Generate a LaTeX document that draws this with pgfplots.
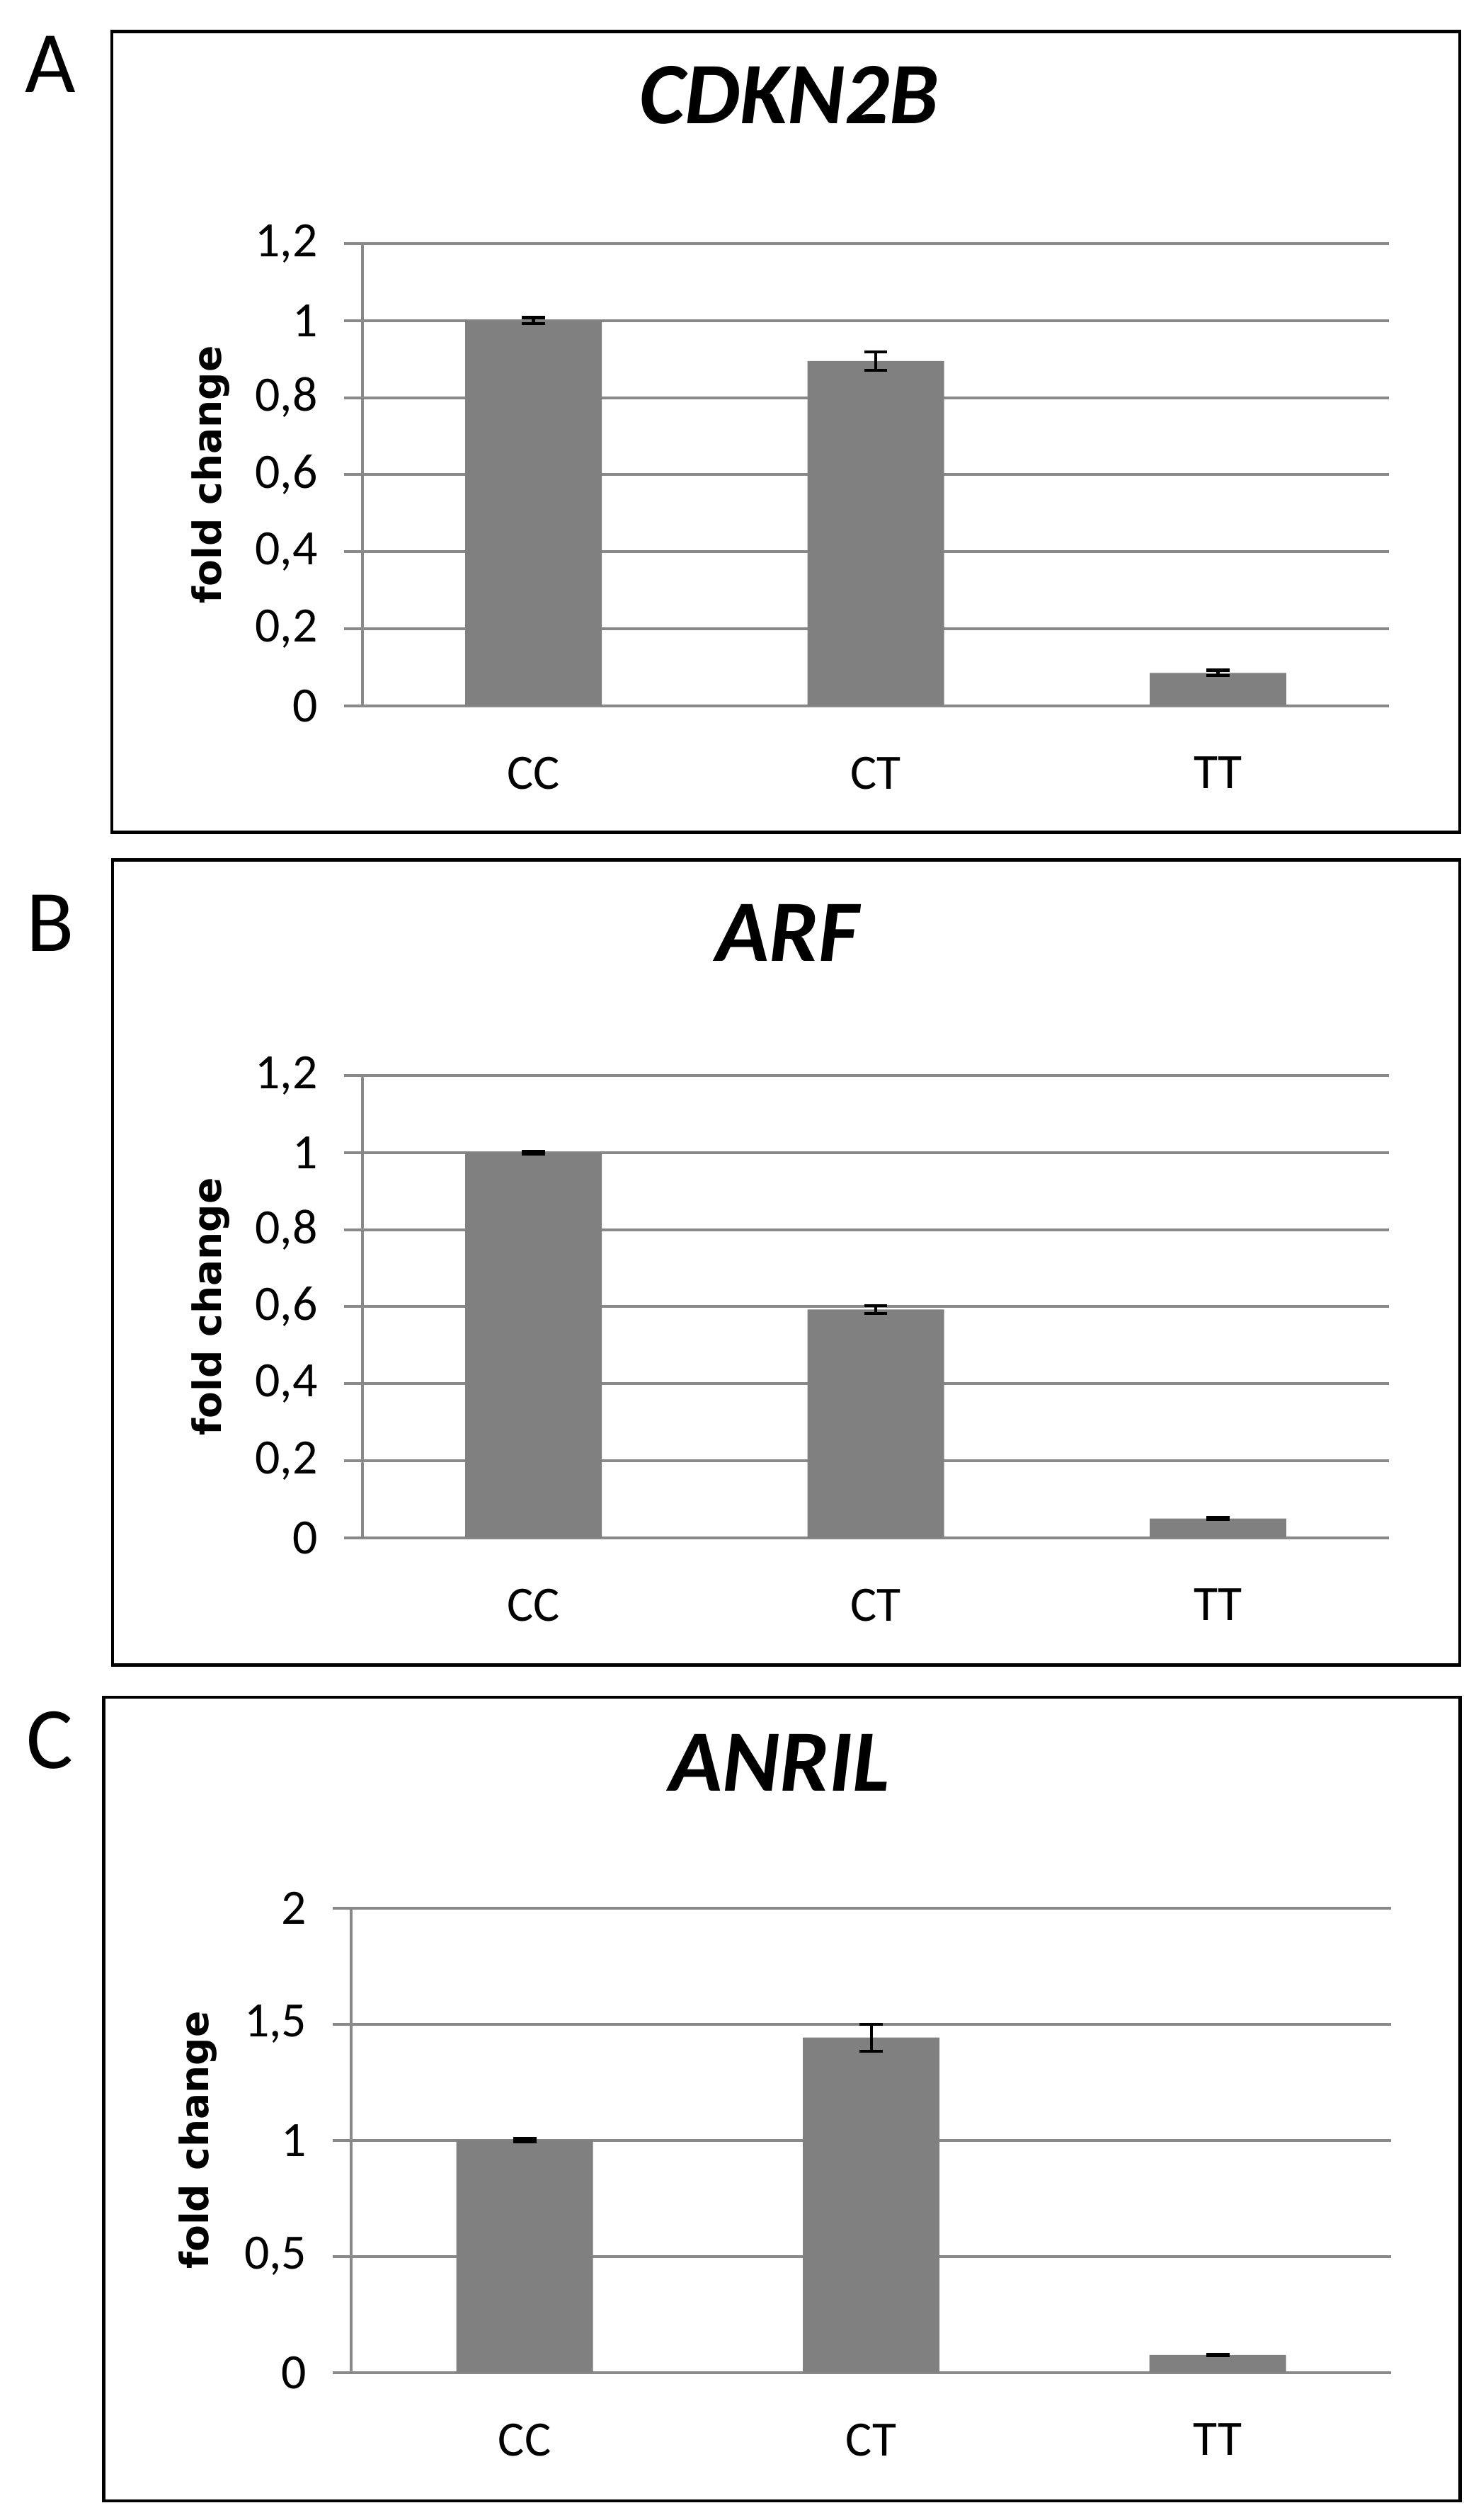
\documentclass[border=0pt]{standalone}
\usepackage{pgfplots}
\pgfplotsset{compat=1.18}
\usepackage{fontspec}
\setmainfont{Carlito}
\newfontfamily\flfont{DejaVu Sans}
\definecolor{gridgray}{RGB}{137,137,137}
\definecolor{bargray}{RGB}{128,128,128}

\pgfplotstableread{
x y e
0 1.000 0.008
1 0.895 0.024
2 0.085 0.007
}\tabA
\pgfplotstableread{
x y e
0 1.000 0.004
1 0.593 0.010
2 0.050 0.002
}\tabB
\pgfplotstableread{
x y e
0 1.000 0.007
1 1.442 0.058
2 0.076 0.002
}\tabC

\pgfplotsset{
  panel/.style={
    scale only axis,
    anchor=south west,
    xmin=-0.5, xmax=2.5,
    ymin=0,
    axis x line*=bottom,
    axis y line*=left,
    axis line style={draw=gridgray, line width=0.35mm, -},
    xtick={0,1,2},
    xticklabels={CC,CT,TT},
    xtick style={draw=none},
    ytick style={draw=gridgray, line width=0.35mm},
    tick align=outside,
    major tick length=2.3mm,
    ymajorgrids,
    grid style={draw=gridgray, line width=0.35mm},
    tick label style={font=\fontsize{17.5}{20}\selectfont},
    /pgf/number format/assume math mode=true,
    /pgf/number format/use comma,
    yticklabel style={inner sep=0pt, xshift=-3.2mm},
    xticklabel style={inner sep=0pt, anchor=north, yshift=-4.0mm},
    ybar, bar width=17mm,
    ylabel={fold change},
    ylabel style={font=\flfont\bfseries\fontsize{13.8}{15}\selectfont, anchor=center, at={(-0.148,0.5)}},
    clip=false,
  },
  barplot/.style={fill=bargray, draw=none,
    error bars/.cd, y dir=both, y explicit,
    error bar style={black, line width=0.38mm},
    error mark options={rotate=90, mark size=1.45mm, line width=0.38mm, black}},
}

\begin{document}
\begin{tikzpicture}
\path[use as bounding box] (0,0) rectangle (182.2mm,-313.6mm);

% Panel A
\draw[black, line width=0.4mm] (13.92mm,-3.9mm) rectangle (181.7mm,-103.6mm);
\node[anchor=base, font=\fontsize{31}{34}\selectfont] at (6.3mm,-11.5mm) {A};
\node[anchor=base, font=\fontsize{31}{34}\selectfont\bfseries\itshape] at (98.2mm,-15.4mm) {CDKN2B};
\begin{axis}[panel, at={(45.1mm,-87.82mm)}, width=127.8mm, height=57.5mm,
  ymax=1.2, ytick={0,0.2,0.4,0.6,0.8,1,1.2}]
\addplot[barplot] table[x=x, y=y, y error=e] {\tabA};
\end{axis}

% Panel B
\draw[black, line width=0.4mm] (14mm,-107mm) rectangle (181.7mm,-207.2mm);
\node[anchor=base, font=\fontsize{31}{34}\selectfont] at (6.3mm,-118.4mm) {B};
\node[anchor=base, font=\fontsize{31}{34}\selectfont\bfseries\itshape] at (98mm,-119.6mm) {ARF};
\begin{axis}[panel, at={(45.1mm,-191.36mm)}, width=127.8mm, height=57.5mm,
  ymax=1.2, ytick={0,0.2,0.4,0.6,0.8,1,1.2}]
\addplot[barplot] table[x=x, y=y, y error=e] {\tabB};
\end{axis}

% Panel C
\draw[black, line width=0.4mm] (12.92mm,-211.2mm) rectangle (181.72mm,-311.2mm);
\node[anchor=base, font=\fontsize{31}{34}\selectfont] at (6.2mm,-220.1mm) {C};
\node[anchor=base, font=\fontsize{31}{34}\selectfont\bfseries\itshape] at (97mm,-222.9mm) {ANRIL};
\begin{axis}[panel, at={(43.74mm,-295.24mm)}, width=129.4mm, height=57.8mm,
  ymax=2, ytick={0,0.5,1,1.5,2}]
\addplot[barplot] table[x=x, y=y, y error=e] {\tabC};
\end{axis}
\end{tikzpicture}
\end{document}
